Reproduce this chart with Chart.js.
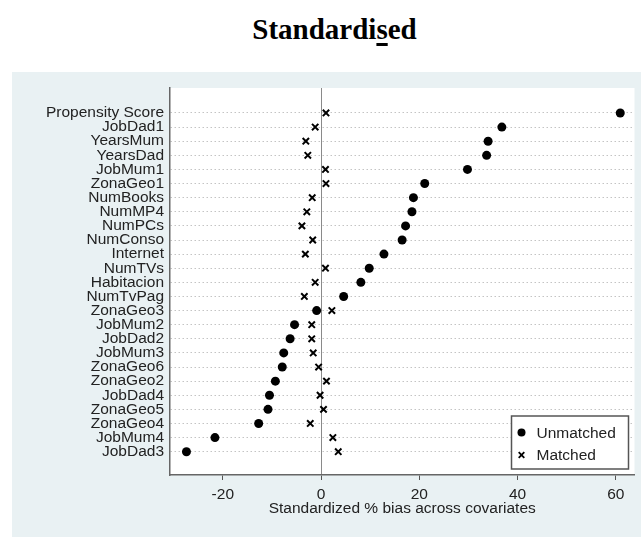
<!DOCTYPE html>
<html>
<head>
<meta charset="utf-8">
<script src="https://cdn.jsdelivr.net/npm/chart.js@4.4.1/dist/chart.umd.min.js"></script>
<style>
  body { margin: 0; background: #fff; width: 641px; height: 537px; overflow: hidden; position: relative; }
  #title {
    position: absolute; left: 0; top: 13px; width: 641px; padding-left: 28px; box-sizing: border-box;
    text-align: center; font: bold 29px "Liberation Serif", "Times New Roman", serif; color: #000;
  }
  #title u { text-decoration-thickness: 3px; text-underline-offset: 4px; }
  #panel { position: absolute; left: 12px; top: 72px; width: 629px; height: 465px; background: #e9f1f3; }
</style>
</head>
<body>
<div id="title">Standardi<u>s</u>ed</div>
<div id="panel"><canvas id="c" width="629" height="465"></canvas></div>
<script>
const categories = [
  'Propensity Score', 'JobDad1', 'YearsMum', 'YearsDad', 'JobMum1', 'ZonaGeo1',
  'NumBooks', 'NumMP4', 'NumPCs', 'NumConso', 'Internet', 'NumTVs', 'Habitacion',
  'NumTvPag', 'ZonaGeo3', 'JobMum2', 'JobDad2', 'JobMum3', 'ZonaGeo6', 'ZonaGeo2',
  'JobDad4', 'ZonaGeo5', 'ZonaGeo4', 'JobMum4', 'JobDad3'
];
const unmatched = [
  60.9, 36.8, 34.0, 33.7, 29.8, 21.1,
  18.8, 18.5, 17.2, 16.5, 12.8, 9.8, 8.1,
  4.6, -0.9, -5.4, -6.3, -7.6, -7.9, -9.3,
  -10.5, -10.8, -12.7, -21.6, -27.4
];
const matched = [
  1.0, -1.2, -3.1, -2.7, 0.9, 1.0,
  -1.8, -2.9, -3.9, -1.7, -3.2, 0.9, -1.2,
  -3.4, 2.2, -1.9, -1.9, -1.6, -0.5, 1.1,
  -0.2, 0.5, -2.2, 2.4, 3.5
];
const xTicks = [-20, 0, 20, 40, 60];
const xTitle = 'Standardized % bias across covariates';

const font = { family: '"Liberation Sans", Arial, sans-serif', size: 15.5 };
const ink = '#222';

const plotBg = {
  id: 'plotBg',
  beforeDraw(chart) {
    const { ctx, chartArea: a } = chart;
    ctx.save();
    ctx.fillStyle = '#fff';
    ctx.fillRect(a.left, a.top, a.right - a.left, a.bottom - a.top);
    ctx.restore();
  }
};

const legendBox = {
  id: 'legendBox',
  afterDraw(chart) {
    const { ctx, chartArea: a } = chart;
    const w = 117, h = 53;
    const x = a.right - 6 - w, y = a.bottom - 6 - h;
    ctx.save();
    ctx.fillStyle = '#fff';
    ctx.fillRect(x, y, w, h);
    ctx.strokeStyle = '#555';
    ctx.lineWidth = 1.5;
    ctx.strokeRect(x, y, w, h);
    ctx.font = font.size + 'px ' + font.family;
    ctx.textBaseline = 'middle';
    chart.data.datasets.forEach((ds, i) => {
      const cy = y + 16.5 + i * 22.5, cx = x + 10;
      ctx.fillStyle = '#000';
      ctx.strokeStyle = '#000';
      if (ds.pointStyle === 'circle') {
        ctx.beginPath();
        ctx.arc(cx, cy, 4, 0, Math.PI * 2);
        ctx.fill();
      } else {
        ctx.lineWidth = 1.8;
        ctx.beginPath();
        ctx.moveTo(cx - 2.8, cy - 2.8); ctx.lineTo(cx + 2.8, cy + 2.8);
        ctx.moveTo(cx - 2.8, cy + 2.8); ctx.lineTo(cx + 2.8, cy - 2.8);
        ctx.stroke();
      }
      ctx.fillStyle = ink;
      ctx.fillText(ds.label, x + 25, cy + 1);
    });
    ctx.restore();
  }
};

new Chart(document.getElementById('c'), {
  type: 'scatter',
  data: {
    datasets: [{
      label: 'Unmatched',
      data: unmatched.map((v, i) => ({ x: v, y: i })),
      pointStyle: 'circle',
      pointRadius: 4.5,
      borderWidth: 0,
      backgroundColor: '#000',
      borderColor: '#000'
    }, {
      label: 'Matched',
      data: matched.map((v, i) => ({ x: v, y: i })),
      pointStyle: 'crossRot',
      pointRadius: 4.5,
      borderWidth: 2,
      backgroundColor: '#000',
      borderColor: '#000'
    }]
  },
  options: {
    responsive: false,
    animation: false,
    devicePixelRatio: 1,
    layout: { padding: { top: 16, right: 4, left: 0, bottom: 0 } },
    plugins: { legend: { display: false }, tooltip: { enabled: false } },
    scales: {
      x: {
        type: 'linear',
        min: -30.75, max: 63.8,
        afterBuildTicks: s => { s.ticks = xTicks.map(v => ({ value: v })); },
        afterFit: s => { s.height = 62; },
        ticks: { color: ink, font, padding: 5, maxRotation: 0 },
        grid: {
          color: c => c.tick && c.tick.value === 0 ? '#8a8a8a' : 'rgba(0,0,0,0)',
          lineWidth: 1,
          tickColor: '#555',
          tickLength: 5,
          drawTicks: true
        },
        border: { display: true, color: '#666', width: 1.5 },
        title: { display: true, text: xTitle, color: ink, font, padding: { top: 0, bottom: 19 } }
      },
      y: {
        type: 'linear',
        reverse: true,
        min: -1.77, max: 25.65,
        afterBuildTicks: s => { s.ticks = categories.map((c, i) => ({ value: i })); },
        afterFit: s => { s.width = 158; },
        ticks: {
          color: ink, font, padding: 6, autoSkip: false,
          callback: v => categories[v]
        },
        grid: { color: '#c4c4c4', lineWidth: 1, drawTicks: false },
        border: { display: true, color: '#666', width: 1.5, dash: [1.5, 2.5] }
      }
    }
  },
  plugins: [plotBg, legendBox]
});
</script>
</body>
</html>
